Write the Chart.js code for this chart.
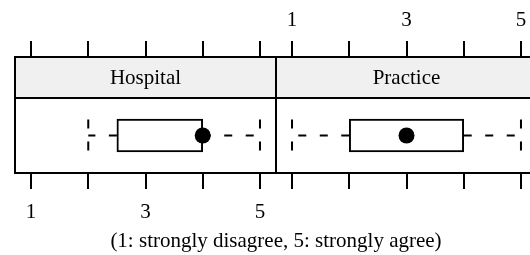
<!DOCTYPE html>
<html>
<head>
<meta charset="utf-8">
<script src="https://cdn.jsdelivr.net/npm/chart.js@4"></script>
<style>
  body { margin: 0; background: #fff; }
  #page { position: relative; width: 530px; height: 255px; overflow: hidden; background: #fff; }
  .panel { position: absolute; top: 0; width: 290px; height: 255px; }
  #note {
    position: absolute; left: 0; top: 230px; width: 552px;
    text-align: center; font: 21px/21px "Liberation Serif", serif; color: #000;
  }
</style>
</head>
<body>
<div id="page">
  <div class="panel" style="left:0px"><canvas id="hospitalChart"></canvas></div>
  <div class="panel" style="left:262px"><canvas id="practiceChart"></canvas></div>
  <div id="note">(1: strongly disagree, 5: strongly agree)</div>
</div>
<script>
// box plot summaries, one entry per panel
const panels = ['Hospital', 'Practice'];
const whiskerLow = [2, 1];
const quartile1 = [2.5, 2];
const medians = [4, 3];
const quartile3 = [4, 4];
const whiskerHigh = [5, 5];

// shared axis
const scaleTicks = [1, 2, 3, 4, 5];
const labeledTicks = [1, 3, 5];
const axisMin = 0.72;
const axisMax = 5.28;

Chart.defaults.font.family = '"Liberation Serif", serif';
Chart.defaults.font.size = 21;
Chart.defaults.color = '#000';

// dashed whisker caps (point elements ignore borderDash, so set it around the dataset)
const capDash = {
  id: 'capDash',
  beforeDatasetDraw(chart, args) {
    const ds = chart.data.datasets[args.index];
    if (ds.capDash) {
      chart.ctx.save();
      chart.ctx.setLineDash(ds.capDash);
    }
  },
  afterDatasetDraw(chart, args) {
    if (chart.data.datasets[args.index].capDash) chart.ctx.restore();
  }
};

// lattice style strip + panel frame
const strip = {
  id: 'strip',
  afterDraw(chart, args, opts) {
    const { ctx, chartArea: a } = chart;
    const h = 41;
    ctx.save();
    ctx.fillStyle = '#f0f0f0';
    ctx.fillRect(a.left, a.top - h, a.width, h);
    ctx.strokeStyle = '#000';
    ctx.lineWidth = 2;
    ctx.strokeRect(a.left, a.top - h, a.width, h);
    ctx.strokeRect(a.left, a.top, a.width, a.height);
    ctx.fillStyle = '#000';
    ctx.font = '21px "Liberation Serif", serif';
    ctx.textAlign = 'center';
    ctx.textBaseline = 'middle';
    ctx.fillText(opts.label, (a.left + a.right) / 2, a.top - h / 2 + 1);
    ctx.restore();
  }
};

function axisOptions(position, showLabels, tickLength, padding, height) {
  return {
    type: 'linear',
    position: position,
    min: axisMin,
    max: axisMax,
    afterBuildTicks: axis => { axis.ticks = scaleTicks.map(v => ({ value: v })); },
    afterFit: axis => {
      axis.height = height;
      axis.paddingLeft = 0;
      axis.paddingRight = 0;
    },
    grid: {
      display: true,
      drawOnChartArea: false,
      drawTicks: true,
      tickLength: tickLength,
      color: '#000',
      lineWidth: 2
    },
    border: { display: false },
    ticks: {
      padding: padding,
      maxRotation: 0,
      autoSkip: false,
      color: showLabels ? '#000' : 'rgba(0,0,0,0)',
      callback: value => labeledTicks.includes(value) ? String(value) : ''
    }
  };
}

function makePanel(canvasId, i, bottomLabels, padLeft, padRight) {
  const name = panels[i];
  return new Chart(document.getElementById(canvasId), {
    type: 'bar',
    data: {
      labels: [name],
      datasets: [
        {
          type: 'scatter',
          data: [{ x: medians[i], y: name }],
          pointRadius: 8,
          pointBackgroundColor: '#000',
          pointBorderWidth: 0
        },
        {
          type: 'bar',
          data: [[quartile1[i], quartile3[i]]],
          backgroundColor: '#fff',
          borderColor: '#000',
          borderWidth: 2,
          borderSkipped: false,
          barThickness: 33
        },
        {
          type: 'line',
          data: [{ x: quartile1[i], y: name }, { x: whiskerLow[i], y: name }],
          borderColor: '#000',
          borderWidth: 2,
          borderDash: [8, 13.5],
          pointRadius: 0
        },
        {
          type: 'line',
          data: [{ x: quartile3[i], y: name }, { x: whiskerHigh[i], y: name }],
          borderColor: '#000',
          borderWidth: 2,
          borderDash: [8, 13.5],
          pointRadius: 0
        },
        {
          type: 'scatter',
          data: [{ x: whiskerLow[i], y: name }, { x: whiskerHigh[i], y: name }],
          pointStyle: 'line',
          rotation: 90,
          pointRadius: 16,
          pointBorderColor: '#000',
          pointBorderWidth: 2,
          capDash: [9, 13]
        }
      ]
    },
    options: {
      indexAxis: 'y',
      responsive: true,
      maintainAspectRatio: false,
      animation: false,
      devicePixelRatio: 1,
      layout: { autoPadding: false, padding: { left: padLeft, right: padRight, top: 0, bottom: 0 } },
      scales: {
        x: axisOptions('bottom', bottomLabels, 16, 11, 82),
        x2: axisOptions('top', !bottomLabels, 57, 8, 98),
        y: { type: 'category', display: false }
      },
      plugins: {
        legend: { display: false },
        tooltip: { enabled: false },
        strip: { label: name }
      }
    },
    plugins: [capDash, strip]
  });
}

makePanel('hospitalChart', 0, true, 15, 14);
makePanel('practiceChart', 1, false, 14, 15);
</script>
</body>
</html>
